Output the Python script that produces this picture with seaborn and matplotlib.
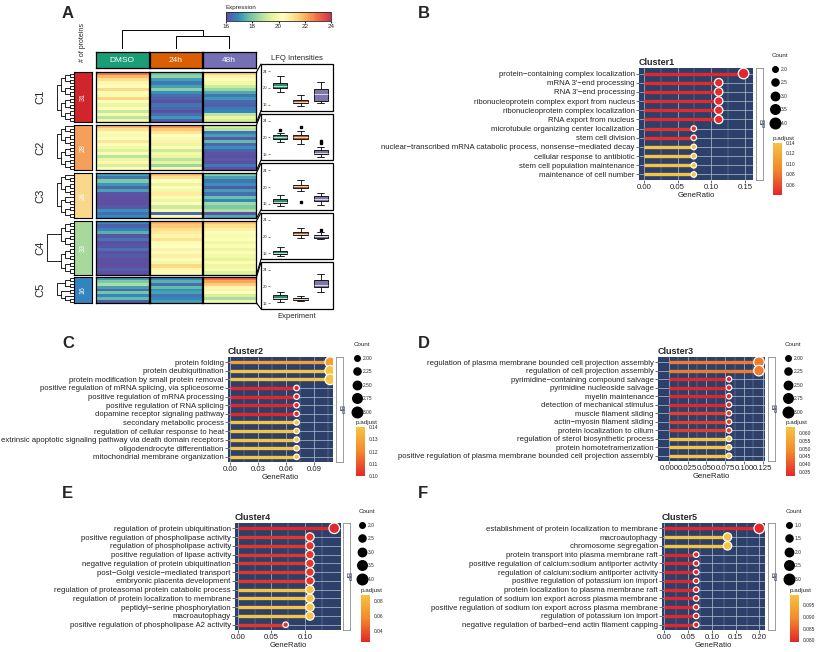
import matplotlib
matplotlib.use("Agg")
import matplotlib.pyplot as plt
import numpy as np
import pandas as pd
import seaborn as sns
from matplotlib.cm import ScalarMappable
from matplotlib.colors import LinearSegmentedColormap, Normalize
from matplotlib.lines import Line2D
from matplotlib.patches import Rectangle
from matplotlib.ticker import FormatStrFormatter

W, H = 816, 652

# ---------------- panel A: heatmap + LFQ boxes ----------------
conditions = ["DMSO", "24h", "48h"]
cond_colors = ["#1B9E77", "#D95F02", "#7570B3"]
clusters = ["C1", "C2", "C3", "C4", "C5"]
cluster_colors = ["#D2252B", "#F5A05A", "#F9D88C", "#A8D99C", "#3383BE"]
n_proteins = [31, 28, 28, 33, 16]

c1_dmso = [22.8, 21.9, 21.2, 20.6, 20.3, 21.3, 20.5, 20.0, 21.4, 20.4, 19.6, 20.2, 19.0, 20.0, 18.9, 19.8]
c1_24h = [17.9, 18.3, 17.2, 16.7, 17.3, 18.2, 17.0, 16.5, 16.3, 15.9, 16.6, 16.4, 15.6, 16.5, 17.1, 16.2]
c1_48h = [21.3, 20.7, 20.2, 19.8, 19.1, 18.4, 17.4, 16.6, 17.1, 16.4, 16.3, 16.7, 16.9, 18.9, 19.6, 19.2]

c2_dmso = [21.8, 21.1, 20.5, 20.0, 20.4, 21.0, 20.2, 19.8, 19.4, 20.1, 18.9, 19.7, 20.6, 19.3, 20.3]
c2_24h = [22.4, 21.6, 21.0, 20.3, 20.1, 20.7, 19.7, 20.2, 19.1, 19.9, 19.6, 18.9, 19.5, 18.4, 20.0]
c2_48h = [19.2, 18.8, 16.6, 17.2, 16.2, 17.7, 16.4, 17.0, 16.3, 16.1, 15.6, 16.2, 15.4, 16.7, 16.0]

c3_dmso = [17.2, 16.6, 18.0, 17.1, 16.4, 17.3, 16.1, 15.6, 15.4, 15.6, 16.2, 17.0, 16.5, 16.9]
c3_24h = [21.6, 21.1, 20.3, 19.6, 20.4, 19.9, 20.9, 20.1, 19.7, 20.3, 19.1, 20.0, 16.4, 20.6]
c3_48h = [18.1, 17.3, 16.6, 17.0, 16.2, 17.2, 16.5, 17.8, 16.9, 18.5, 18.0, 18.6, 15.7, 17.4]

c4_dmso = [16.9, 16.3, 16.8, 17.5, 16.1, 16.6, 15.9, 16.1, 16.6, 15.9, 16.2, 15.8, 15.5, 16.0, 16.3, 15.7]
c4_24h = [22.0, 21.6, 21.2, 20.9, 20.6, 21.1, 20.5, 20.3, 20.7, 20.2, 20.8, 20.4, 19.8, 21.3, 20.6, 20.1]
c4_48h = [21.7, 21.2, 20.8, 20.4, 20.0, 20.3, 19.8, 20.1, 19.6, 20.2, 19.9, 19.5, 20.5, 19.7, 20.0, 19.4]

c5_dmso = [17.1, 18.0, 18.6, 17.2, 16.4, 17.9, 16.9, 17.7, 16.2]
c5_24h = [16.8, 17.5, 16.5, 17.7, 17.0, 17.3, 16.6, 16.9, 17.2]
c5_48h = [23.0, 22.2, 21.5, 20.6, 19.9, 20.3, 19.3, 18.6, 19.8]

expr = {
    "C1": [c1_dmso, c1_24h, c1_48h],
    "C2": [c2_dmso, c2_24h, c2_48h],
    "C3": [c3_dmso, c3_24h, c3_48h],
    "C4": [c4_dmso, c4_24h, c4_48h],
    "C5": [c5_dmso, c5_24h, c5_48h],
}

# ---------------- panels B-F: GO lollipop plots ----------------
terms_c1 = ["protein\u2212containing complex localization", "mRNA 3'\u2212end processing",
            "RNA 3'\u2212end processing", "ribonucleoprotein complex export from nucleus",
            "ribonucleoprotein complex localization", "RNA export from nucleus",
            "microtubule organizing center localization", "stem cell division",
            "nuclear\u2212transcribed mRNA catabolic process, nonsense\u2212mediated decay",
            "cellular response to antibiotic", "stem cell population maintenance",
            "maintenance of cell number"]
ratio_c1 = [0.148, 0.111, 0.111, 0.111, 0.111, 0.111, 0.074, 0.074, 0.074, 0.074, 0.074, 0.074]
count_c1 = [4, 3, 3, 3, 3, 3, 2, 2, 2, 2, 2, 2]
padj_c1 = [0.040, 0.042, 0.042, 0.042, 0.042, 0.042, 0.045, 0.045, 0.140, 0.140, 0.140, 0.140]

terms_c2 = ["protein folding", "protein deubiquitination",
            "protein modification by small protein removal",
            "positive regulation of mRNA splicing, via spliceosome",
            "positive regulation of mRNA processing", "positive regulation of RNA splicing",
            "dopamine receptor signaling pathway", "secondary metabolic process",
            "regulation of cellular response to heat",
            "extrinsic apoptotic signaling pathway via death domain receptors",
            "oligodendrocyte differentiation", "mitochondrial membrane organization"]
ratio_c2 = [0.107, 0.107, 0.107, 0.071, 0.071, 0.071, 0.071, 0.071, 0.071, 0.071, 0.071, 0.071]
count_c2 = [3, 3, 3, 2, 2, 2, 2, 2, 2, 2, 2, 2]
padj_c2 = [0.128, 0.140, 0.140, 0.100, 0.100, 0.100, 0.100, 0.140, 0.140, 0.140, 0.140, 0.140]

terms_c3 = ["regulation of plasma membrane bounded cell projection assembly",
            "regulation of cell projection assembly", "pyrimidine\u2212containing compound salvage",
            "pyrimidine nucleoside salvage", "myelin maintenance", "detection of mechanical stimulus",
            "muscle filament sliding", "actin\u2212myosin filament sliding",
            "protein localization to cilium", "regulation of sterol biosynthetic process",
            "protein homotetramerization",
            "positive regulation of plasma membrane bounded cell projection assembly"]
ratio_c3 = [0.120, 0.120, 0.080, 0.080, 0.080, 0.080, 0.080, 0.080, 0.080, 0.080, 0.080, 0.080]
count_c3 = [3, 3, 2, 2, 2, 2, 2, 2, 2, 2, 2, 2]
padj_c3 = [0.046, 0.046, 0.0325, 0.0325, 0.0325, 0.0325, 0.036, 0.036, 0.036, 0.0638, 0.0638, 0.0638]

terms_c4 = ["regulation of protein ubiquitination", "positive regulation of phospholipase activity",
            "regulation of phospholipase activity", "positive regulation of lipase activity",
            "negative regulation of protein ubiquitination", "post\u2212Golgi vesicle\u2212mediated transport",
            "embryonic placenta development", "regulation of proteasomal protein catabolic process",
            "regulation of protein localization to membrane", "peptidyl\u2212serine phosphorylation",
            "macroautophagy", "positive regulation of phospholipase A2 activity"]
ratio_c4 = [0.143, 0.107, 0.107, 0.107, 0.107, 0.107, 0.107, 0.107, 0.107, 0.107, 0.107, 0.071]
count_c4 = [4, 3, 3, 3, 3, 3, 3, 3, 3, 3, 3, 2]
padj_c4 = [0.0252, 0.030, 0.030, 0.030, 0.030, 0.030, 0.030, 0.0876, 0.0876, 0.0876, 0.0876, 0.030]

terms_c5 = ["establishment of protein localization to membrane", "macroautophagy",
            "chromosome segregation", "protein transport into plasma membrane raft",
            "positive regulation of calcium:sodium antiporter activity",
            "regulation of calcium:sodium antiporter activity",
            "positive regulation of potassium ion import",
            "protein localization to plasma membrane raft",
            "regulation of sodium ion export across plasma membrane",
            "positive regulation of sodium ion export across plasma membrane",
            "regulation of potassium ion import",
            "negative regulation of barbed\u2212end actin filament capping"]
ratio_c5 = [0.200, 0.133, 0.133, 0.067, 0.067, 0.067, 0.067, 0.067, 0.067, 0.067, 0.067, 0.067]
count_c5 = [3, 2, 2, 1, 1, 1, 1, 1, 1, 1, 1, 1]
padj_c5 = [0.0793, 0.0993, 0.0993, 0.0793, 0.0793, 0.0793, 0.0793, 0.0793, 0.0793, 0.0793, 0.0793, 0.0793]

sns.set_style("white")
plt.rcParams["font.family"] = ["Liberation Sans", "DejaVu Sans"]

fig = plt.figure(figsize=(W / 100, H / 100), dpi=100)


def rect(l, t, r, b):
    return [l / W, 1 - b / H, (r - l) / W, (b - t) / H]


def fx(x):
    return x / W


def fy(y):
    return 1 - y / H


def black_frame(ax, lw=0.9):
    for s in ax.spines.values():
        s.set_visible(True)
        s.set_color("black")
        s.set_linewidth(lw)


def draw_tree(ax, lo, hi, top=None):
    if hi - lo == 1:
        return lo + 0.5, 0.0
    mid = (lo + hi) // 2
    y1, h1 = draw_tree(ax, lo, mid)
    y2, h2 = draw_tree(ax, mid, hi)
    h = max(h1, h2) + 1 if top is None else top
    ax.plot([h1, h, h, h2], [y1, y1, y2, y2], color="black", lw=0.6)
    return (y1 + y2) / 2, h


expr_cmap = LinearSegmentedColormap.from_list(
    "expr", plt.get_cmap("Spectral_r")(np.linspace(0.0, 0.92, 256)))

col_left = [96, 149.5, 203]
col_w = 52.5
hm_top, hm_bot, hm_gap = 72, 303, 2.5
row_px = (hm_bot - hm_top - hm_gap * (len(clusters) - 1)) / sum(n_proteins)
spans = []
y = hm_top
for n in n_proteins:
    spans.append((y, y + n * row_px))
    y += n * row_px + hm_gap

# headers
for k, cond in enumerate(conditions):
    axh = fig.add_axes(rect(col_left[k], 52, col_left[k] + col_w, 68))
    axh.set_facecolor(cond_colors[k])
    axh.set_xticks([])
    axh.set_yticks([])
    black_frame(axh)
    axh.text(0.5, 0.5, cond, color="white", fontsize=6, ha="center", va="center",
             transform=axh.transAxes)

# top dendrogram
axt = fig.add_axes(rect(col_left[0], 30, col_left[2] + col_w, 49))
axt.axis("off")
centers = [c + col_w / 2 for c in col_left]
axt.plot([centers[1], centers[1], centers[2], centers[2]], [0, 0.72, 0.72, 0], color="black", lw=0.7)
mid12 = (centers[1] + centers[2]) / 2
axt.plot([centers[0], centers[0], mid12, mid12], [0, 1, 1, 0.72], color="black", lw=0.7)
axt.set_xlim(col_left[0], col_left[2] + col_w)
axt.set_ylim(0, 1.02)

# expression colour bar
cax = fig.add_axes(rect(226, 12, 331, 21))
cb = fig.colorbar(ScalarMappable(Normalize(16, 24), expr_cmap), cax=cax, orientation="horizontal")
cb.set_ticks([16, 18, 20, 22, 24])
cax.tick_params(labelsize=4.5, length=1.5, pad=0.5)
cb.outline.set_linewidth(0.6)
cax.text(0.0, 1.2, "Expression", transform=cax.transAxes, fontsize=4.5, va="bottom", ha="left")

fig.text(fx(83), fy(42), "# of proteins", rotation=90, fontsize=5, ha="center", va="center")

box_top, box_h, box_gap = 64, 46.5, 3.1
for ci, cl in enumerate(clusters):
    t, b = spans[ci]
    n_rows = len(expr[cl][0])
    for k in range(len(conditions)):
        ax = fig.add_axes(rect(col_left[k], t, col_left[k] + col_w, b))
        vals = np.array(expr[cl][k])[:, None]
        sns.heatmap(vals, ax=ax, cmap=expr_cmap, vmin=16, vmax=24, cbar=False,
                    xticklabels=False, yticklabels=False)
        black_frame(ax)

    axc = fig.add_axes(rect(74, t, 92, b))
    axc.set_facecolor(cluster_colors[ci])
    axc.set_xticks([])
    axc.set_yticks([])
    black_frame(axc, 0.8)
    axc.text(0.5, 0.5, str(n_proteins[ci]), rotation=90, color="white", fontsize=5,
             ha="center", va="center", transform=axc.transAxes)
    fig.text(fx(40), fy((t + b) / 2), cl, rotation=90, fontsize=8, ha="center", va="center")

    axd = fig.add_axes(rect(44, t, 74, b))
    axd.axis("off")
    draw_tree(axd, 0, n_rows, top=6.3 if cl == "C4" else None)
    axd.set_xlim(7, 0)
    axd.set_ylim(n_rows, 0)

    # LFQ box
    ft = box_top + ci * (box_h + box_gap)
    fb = ft + box_h
    fig.add_artist(Rectangle((fx(261), fy(fb)), (333 - 261) / W, box_h / H,
                             transform=fig.transFigure, fill=False, ec="black", lw=0.9))
    fig.add_artist(Line2D([fx(256.5), fx(261)], [fy(t), fy(ft)], transform=fig.transFigure,
                          color="black", lw=0.8))
    fig.add_artist(Line2D([fx(256.5), fx(261)], [fy(b), fy(fb)], transform=fig.transFigure,
                          color="black", lw=0.8))
    axb = fig.add_axes(rect(270, ft, 331, fb))
    df = pd.DataFrame({
        "cond": np.repeat(conditions, [len(v) for v in expr[cl]]),
        "value": np.concatenate(expr[cl]),
    })
    sns.boxplot(data=df, x="cond", y="value", hue="cond", order=conditions,
                hue_order=conditions, palette=cond_colors, width=0.72, linewidth=0.6,
                linecolor="black", fliersize=2,
                flierprops={"marker": "s", "markerfacecolor": "black", "markeredgecolor": "black"},
                medianprops={"color": "#E8E8E8", "linewidth": 0.6},
                legend=False, ax=axb)
    axb.set_xlim(-0.5, 2.5)
    axb.set_ylim(14.6, 25.7)
    axb.set_yticks([16, 20, 24])
    axb.set_xticks([])
    axb.set_xlabel("")
    axb.set_ylabel("")
    axb.tick_params(axis="y", labelsize=3, length=1.5, pad=0.5, width=0.4, left=True)
    axb.patch.set_alpha(0)
    for s in axb.spines.values():
        s.set_visible(False)

fig.text(fx(297), fy(58), "LFQ Intensities", fontsize=5.5, ha="center", va="center")
fig.text(fx(297), fy(317), "Experiment", fontsize=5.5, ha="center", va="center")

# ---------------- lollipop panels ----------------
padj_cmap = LinearSegmentedColormap.from_list("padj", ["#E3262B", "#F2892C", "#F6C342"])
navy = "#2D4069"


def size_of(c, cmin, cmax, smin=16, smax=58):
    return smin + (c - cmin) / (cmax - cmin) * (smax - smin)


def dot_panel(box_px, strip_px, title, terms, ratio, count, padj, xlim, major, minor, xfmt,
              legend_px, count_ticks, count_fmt, cbar_px, padj_ticks, padj_fmt):
    ax = fig.add_axes(rect(*box_px))
    ax.set_facecolor(navy)
    n = len(terms)
    ypos = np.arange(n)
    norm = Normalize(min(padj), max(padj))
    cmin, cmax = min(count), max(count)
    ax.hlines(ypos, 0, ratio, colors=padj_cmap(norm(np.array(padj))), lw=2.4, zorder=2)
    sns.scatterplot(x=ratio, y=ypos, hue=padj, palette=padj_cmap, hue_norm=norm,
                    size=count, sizes=(16, 58), size_norm=(cmin, cmax),
                    edgecolor="white", linewidth=0.9, legend=False, ax=ax, zorder=3)
    ax.set_xlim(*xlim)
    ax.set_ylim(n - 0.4, -0.6)
    ax.set_yticks(ypos)
    ax.set_yticklabels(terms)
    ax.set_xticks(major)
    ax.set_xticks(minor, minor=True)
    ax.xaxis.set_major_formatter(FormatStrFormatter(xfmt))
    ax.grid(True, which="major", color="#B5C0D3", lw=0.5)
    ax.grid(True, which="minor", axis="x", color="#8E9BB5", lw=0.3)
    ax.set_axisbelow(True)
    for s in ax.spines.values():
        s.set_visible(False)
    ax.tick_params(axis="both", which="major", labelsize=5.6, length=2, width=0.5,
                   color="#333333", labelcolor="#222222", pad=1, left=True, bottom=True)
    ax.tick_params(axis="x", which="minor", length=0)
    ax.set_xlabel("GeneRatio", fontsize=5.6, labelpad=0.5, color="#222222")
    ax.set_ylabel("")
    ax.set_title(title, loc="left", fontsize=6.5, fontweight="bold", pad=2)

    axs = fig.add_axes(rect(*strip_px))
    axs.set_facecolor("white")
    axs.set_xticks([])
    axs.set_yticks([])
    for s in axs.spines.values():
        s.set_color("#8C8C8C")
        s.set_linewidth(0.6)
    axs.text(0.5, 0.5, "BP", rotation=-90, fontsize=5, color="#2D3A5A", ha="center",
             va="center", transform=axs.transAxes)

    handles = [Line2D([], [], marker="o", ls="", color="black",
                      markersize=np.sqrt(size_of(c, cmin, cmax))) for c in count_ticks]
    fig.legend(handles, [count_fmt % c for c in count_ticks], loc="upper left",
               bbox_to_anchor=(fx(legend_px[0]), fy(legend_px[1])), frameon=False,
               title="Count", fontsize=3.5, title_fontsize=4.5, labelspacing=1.75,
               handletextpad=0.6, handlelength=1.2, borderpad=0, borderaxespad=0,
               alignment="left")

    cx = fig.add_axes(rect(*cbar_px))
    cbp = fig.colorbar(ScalarMappable(norm, padj_cmap), cax=cx)
    cbp.outline.set_visible(False)
    cbp.set_ticks(padj_ticks)
    cx.yaxis.set_major_formatter(FormatStrFormatter(padj_fmt))
    cx.tick_params(labelsize=3.5, length=1.5, color="white", pad=1, width=0.5)
    fig.text(fx(cbar_px[0]), fy(cbar_px[1] - 2), "p.adjust", fontsize=4.5, ha="left", va="bottom")


dot_panel((639, 68, 753, 180), (756, 68, 763, 180), "Cluster1", terms_c1, ratio_c1, count_c1,
          padj_c1, (-0.0074, 0.162), [0, 0.05, 0.10, 0.15], [0.025, 0.075, 0.125], "%.2f",
          (772, 53), [2.0, 2.5, 3.0, 3.5, 4.0], "%.1f",
          (773, 143, 782, 195), [0.06, 0.08, 0.10, 0.12, 0.14], "%.2f")
dot_panel((228, 357, 333, 462), (336, 357, 343, 462), "Cluster2", terms_c2, ratio_c2, count_c2,
          padj_c2, (-0.0024, 0.110), [0, 0.03, 0.06, 0.09], [0.015, 0.045, 0.075, 0.105], "%.2f",
          (354, 342), [2.00, 2.25, 2.50, 2.75, 3.00], "%.2f",
          (356, 427, 365, 476), [0.10, 0.11, 0.12, 0.13, 0.14], "%.2f")
dot_panel((658, 357, 765, 461), (768, 357, 775, 461), "Cluster3", terms_c3, ratio_c3, count_c3,
          padj_c3, (-0.0146, 0.128), [0, 0.025, 0.05, 0.075, 0.10, 0.125],
          [0.0125, 0.0375, 0.0625, 0.0875, 0.1125], "%.3f",
          (785, 342), [2.00, 2.25, 2.50, 2.75, 3.00], "%.2f",
          (786, 427, 795, 476), [0.035, 0.040, 0.045, 0.050, 0.055, 0.060], "%.3f")
dot_panel((235, 523, 341, 630), (343, 523, 350, 630), "Cluster4", terms_c4, ratio_c4, count_c4,
          padj_c4, (-0.004, 0.153), [0, 0.05, 0.10], [0.025, 0.075, 0.125], "%.2f",
          (359, 509), [2.0, 2.5, 3.0, 3.5, 4.0], "%.1f",
          (361, 595, 370, 642), [0.04, 0.06, 0.08], "%.2f")
dot_panel((662, 523, 765, 630), (768, 523, 775, 630), "Cluster5", terms_c5, ratio_c5, count_c5,
          padj_c5, (-0.005, 0.212), [0, 0.05, 0.10, 0.15, 0.20], [0.025, 0.075, 0.125, 0.175],
          "%.2f", (786, 509), [1.0, 1.5, 2.0, 2.5, 3.0], "%.1f",
          (790, 595, 799, 642), [0.080, 0.085, 0.090, 0.095], "%.3f")

for letter, (lx, ly) in zip("ABCDEF", [(62, 13), (418, 13), (62, 343), (418, 343), (62, 493), (418, 493)]):
    fig.text(fx(lx), fy(ly), letter, fontsize=12, fontweight="bold", ha="left", va="center")

fig.savefig("out.png", dpi=100)
